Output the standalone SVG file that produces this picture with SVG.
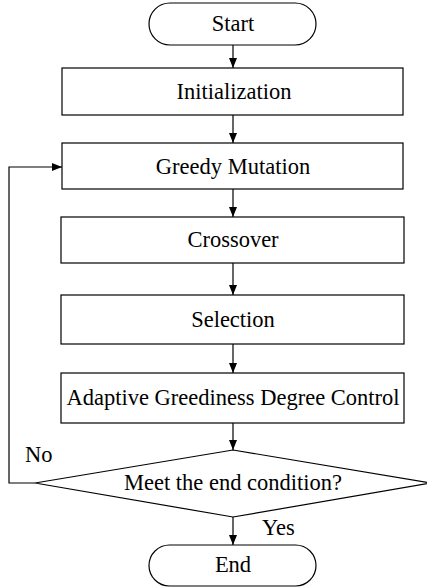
<svg xmlns="http://www.w3.org/2000/svg" width="427" height="588" viewBox="0 0 427 588">
<style>
.s{fill:#fff;stroke:#000;stroke-width:1.2}
.t{font-family:"Liberation Serif","Times New Roman",serif;font-size:22.5px;fill:#000;text-anchor:middle}
.l{font-family:"Liberation Serif","Times New Roman",serif;font-size:22.5px;fill:#000}
.c{fill:none;stroke:#000;stroke-width:1.2}
</style>
<defs>
<marker id="a" markerWidth="10" markerHeight="8" refX="10" refY="4" orient="auto" markerUnits="userSpaceOnUse">
<path d="M0,0 L10,4 L0,8 Z" fill="#000"/>
</marker>
</defs>
<rect width="427" height="588" fill="#fff"/>
<g id="connectors">
<line class="c" x1="233" y1="45" x2="233" y2="68" marker-end="url(#a)"/>
<line class="c" x1="233" y1="115" x2="233" y2="143" marker-end="url(#a)"/>
<line class="c" x1="233" y1="189" x2="233" y2="217" marker-end="url(#a)"/>
<line class="c" x1="233" y1="263" x2="233" y2="295" marker-end="url(#a)"/>
<line class="c" x1="233" y1="344" x2="233" y2="373" marker-end="url(#a)"/>
<line class="c" x1="233" y1="423" x2="233" y2="450" marker-end="url(#a)"/>
<line class="c" x1="233" y1="517" x2="233" y2="545" marker-end="url(#a)"/>
<polyline class="c" points="35,483 9,483 9,167 62,167" marker-end="url(#a)"/>
<text class="l" x="25" y="462">No</text>
<text class="l" x="262" y="535">Yes</text>
</g>
<g id="start">
<rect class="s" x="149" y="3" width="167" height="42" rx="21" ry="21"/>
<text class="t" x="233" y="31">Start</text>
</g>
<g id="init">
<rect class="s" x="62" y="68" width="341" height="47"/>
<text class="t" x="234" y="99">Initialization</text>
</g>
<g id="mutation">
<rect class="s" x="62" y="143" width="341" height="46"/>
<text class="t" x="233" y="174">Greedy Mutation</text>
</g>
<g id="crossover">
<rect class="s" x="61" y="217" width="343" height="46"/>
<text class="t" x="233" y="247">Crossover</text>
</g>
<g id="selection">
<rect class="s" x="61" y="295" width="343" height="49"/>
<text class="t" x="233" y="327">Selection</text>
</g>
<g id="adaptive">
<rect class="s" x="61" y="373" width="343" height="50"/>
<text class="t" x="233" y="405">Adaptive Greediness Degree Control</text>
</g>
<g id="decision">
<polygon class="s" points="233,450 431,483 233,517 35,483"/>
<text class="t" x="233" y="490">Meet the end condition?</text>
</g>
<g id="end">
<rect class="s" x="149" y="545" width="167" height="41" rx="20.5" ry="20.5"/>
<text class="t" x="233" y="572">End</text>
</g>
</svg>
